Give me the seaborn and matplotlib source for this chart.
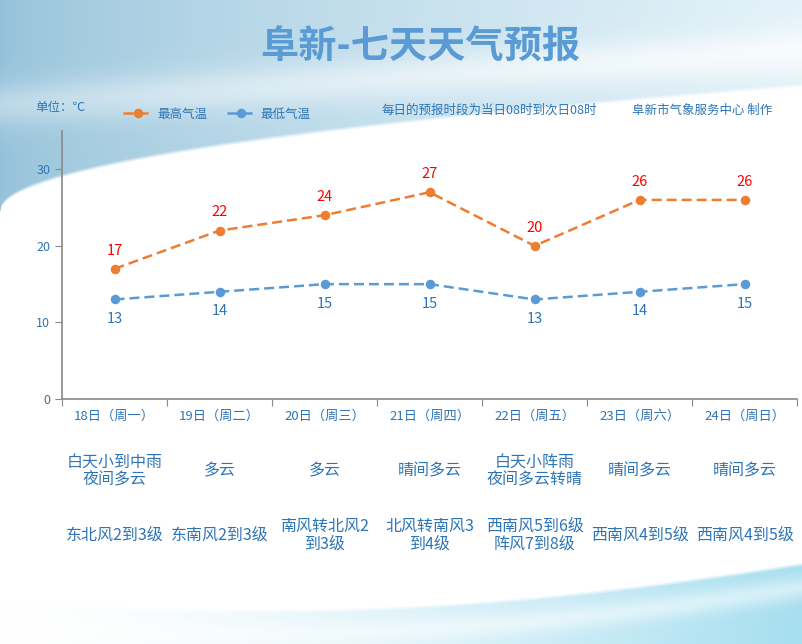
import numpy as np
import pandas as pd
import matplotlib
matplotlib.use('Agg')
import matplotlib.pyplot as plt
from matplotlib.colors import to_rgb
import seaborn as sns

days = ['18日（周一）', '19日（周二）', '20日（周三）', '21日（周四）',
        '22日（周五）', '23日（周六）', '24日（周日）']
high = [17, 22, 24, 27, 20, 26, 26]
low = [13, 14, 15, 15, 13, 14, 15]
weather = ['白天小到中雨\n夜间多云', '多云', '多云', '晴间多云',
           '白天小阵雨\n夜间多云转晴', '晴间多云', '晴间多云']
wind = ['东北风2到3级', '东南风2到3级', '南风转北风2\n到3级', '北风转南风3\n到4级',
        '西南风5到6级\n阵风7到8级', '西南风4到5级', '西南风4到5级']

ORANGE = '#ED7D31'
BLUE = '#5B9BD5'
TXT = '#2E75B6'

sns.set_style('ticks')
plt.rcParams['font.family'] = ['Noto Sans CJK SC', 'DejaVu Sans']

fig = plt.figure(figsize=(8.02, 6.44), dpi=100)

# background swooshes, painted as a pixel image
W, H = 802, 644
yy, xx = np.mgrid[0:H, 0:W].astype(float)
u = xx / W
img = np.ones((H, W, 3))

top_edge = 212 - 125 * np.sqrt(u)
t_mask = np.clip((top_edge - yy) / 4, 0, 1)
dark = np.array(to_rgb('#95c2da'))
light = np.array(to_rgb('#e4f3f9'))
mix = np.clip(u ** 0.7, 0, 1)[..., None]
top_col = dark * (1 - mix) + light * mix
# soft white swoosh behind the title
sw = np.exp(-((yy - (105 - 55 * u)) / 22) ** 2) * (0.35 + 0.4 * u)
top_col = top_col * (1 - sw[..., None]) + sw[..., None]
img = img * (1 - t_mask[..., None]) + top_col * t_mask[..., None]

bot_edge = 600 + 15 * np.sin(np.pi * u) - 38 * u ** 2
b_mask = np.clip((yy - bot_edge) / 4, 0, 1)
cyan = np.array(to_rgb('#a6def0'))
bmix = np.clip(u ** 1.5, 0, 1)[..., None]
bot_col = (1 - bmix) * 1 + bmix * cyan
inner = np.exp(-((yy - (bot_edge + 25)) / 12) ** 2) * 0.5
bot_col = bot_col * (1 - inner[..., None]) + inner[..., None]
img = img * (1 - b_mask[..., None]) + bot_col * b_mask[..., None]

bg = fig.add_axes([0, 0, 1, 1], zorder=-5)
bg.imshow(img, extent=(0, W, H, 0), aspect='auto', interpolation='bilinear')
bg.set_xlim(0, W)
bg.set_ylim(H, 0)
bg.axis('off')

# main chart
ax = fig.add_axes([62 / 802, 1 - 399 / 644, 735 / 802, (399 - 131) / 644])
ax.patch.set_alpha(0)
df = pd.DataFrame({'day': days, 'high': high, 'low': low})
sns.pointplot(data=df, x='day', y='high', color=ORANGE, linestyles='--',
              markers='o', markersize=5.5, linewidth=1.8, ax=ax, label='最高气温')
sns.pointplot(data=df, x='day', y='low', color=BLUE, linestyles='--',
              markers='o', markersize=5.5, linewidth=1.8, ax=ax, label='最低气温')
for line in ax.lines:
    line.set_dashes((4, 2))

for i, v in enumerate(high):
    ax.annotate(str(v), (i, v), xytext=(0, 8), textcoords='offset points',
                ha='center', va='bottom', color='#FF0000', fontsize=10.5)
for i, v in enumerate(low):
    ax.annotate(str(v), (i, v), xytext=(0, -9), textcoords='offset points',
                ha='center', va='top', color=TXT, fontsize=10.5)

ax.set_xlim(-0.5, len(days) - 0.5)
ax.set_ylim(0, 35)
ax.set_yticks([0, 10, 20, 30])
ax.set_xticks(np.arange(len(days) + 1) - 0.5)
ax.set_xticklabels([])
ax.set_xticks(np.arange(len(days)), minor=True)
ax.set_xticklabels(days, minor=True)
ax.tick_params(axis='x', which='minor', length=0, pad=8, labelsize=9.5, labelcolor=TXT)
ax.tick_params(axis='x', which='major', length=5, color='#898989')
ax.tick_params(axis='y', length=5, color='#898989', labelsize=9, labelcolor=TXT)
ax.set_xlabel('')
ax.set_ylabel('')
sns.despine(ax=ax)
for s in ['left', 'bottom']:
    ax.spines[s].set_color('#898989')
    ax.spines[s].set_linewidth(1.2)

# weather and wind rows below axis
for i in range(len(days)):
    xf = (62 + 105 * (i + 0.5)) / 802
    fig.text(xf, 1 - 471 / 644, weather[i], ha='center', va='center', color=TXT,
             fontsize=11.5, linespacing=1.1)
    fig.text(xf, 1 - 535 / 644, wind[i], ha='center', va='center', color=TXT,
             fontsize=11.5, linespacing=1.1)

fig.text(420 / 802, 1 - 46 / 644, '阜新-七天天气预报', ha='center', va='center',
         color=BLUE, fontsize=27.5, fontweight='bold')
fig.text(35 / 802, 1 - 108 / 644, '单位：℃', ha='left', va='center', color=TXT, fontsize=9)
fig.text(381 / 802, 1 - 110 / 644, '每日的预报时段为当日08时到次日08时', ha='left',
         va='center', color=TXT, fontsize=9)
fig.text(632 / 802, 1 - 110 / 644, '阜新市气象服务中心 制作', ha='left',
         va='center', color=TXT, fontsize=9)

handles, labels = ax.get_legend_handles_labels()
leg = fig.legend(handles, labels, loc='center left', bbox_to_anchor=(112 / 802, 1 - 114 / 644),
                 ncol=2, frameon=False, fontsize=9, handlelength=2.3, columnspacing=1.6,
                 handletextpad=0.4, labelcolor=TXT)
if ax.get_legend() is not None:
    ax.get_legend().remove()

fig.savefig('out.png', dpi=100)
